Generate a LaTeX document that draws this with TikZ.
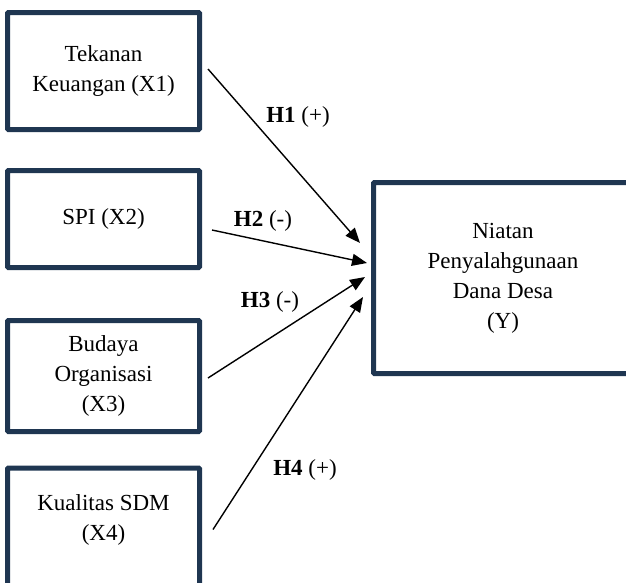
\documentclass[tikz,border=0pt]{standalone}
\usepackage{fontspec}
\setmainfont{Liberation Serif}
\usetikzlibrary{arrows.meta}
\definecolor{boxnavy}{HTML}{1F3651}
\tikzset{
  varbox/.style={draw=boxnavy, line width=5pt, rounded corners=1pt, align=center,
    minimum width=192pt, inner sep=0pt, font=\fontsize{23}{30}\selectfont},
  hyp/.style={-{Triangle[length=15pt,width=12pt]}, line width=1.4pt},
  hyplabel/.style={font=\fontsize{23}{28}\selectfont, inner sep=0pt}
}
\begin{document}
\begin{tikzpicture}[x=1pt,y=-1pt]
    % Frame
    \useasboundingbox (0,0) rectangle (626,582);
    \clip (0,0) rectangle (626,582);

    % Independent variables
    \node[varbox, minimum height=117pt] (x1) at (103.5,71) {Tekanan\\Keuangan (X1)};
    \node[varbox, minimum height=97pt] (x2) at (103.5,219) {SPI (X2)};
    \node[varbox, minimum height=111pt] (x3) at (103.5,376) {Budaya\\Organisasi\\(X3)};
    \node[varbox, anchor=north, text height=72.5pt, text depth=90pt] (x4) at (103.5,465.5) {Kualitas SDM\\(X4)};

    % Dependent variable
    \node[varbox, minimum width=259pt, minimum height=191pt] (y) at (503,278) {Niatan\\Penyalahgunaan\\Dana Desa\\(Y)};

    % Hypotheses
    \draw[hyp] ([shift={(6,-2)}]x1.east) -- ([shift={(-11,-35)}]y.west);
    \draw[hyp] ([shift={(10,11)}]x2.east) -- ([shift={(-4,-15)}]y.west);
    \draw[hyp] ([shift={(6,2)}]x3.east) -- ([shift={(-6,-1)}]y.west);
    \draw[hyp] ([shift={(11,64)}]x4.north east) -- ([shift={(-8,19)}]y.west);

    % Labels
    \node[hyplabel] (h1) at (298,117) {\textbf{H1} (+)};
    \node[hyplabel] (h2) at (263,221) {\textbf{H2} (-)};
    \node[hyplabel] (h3) at (270,302) {\textbf{H3} (-)};
    \node[hyplabel] (h4) at (305,470) {\textbf{H4} (+)};
\end{tikzpicture}
\end{document}
